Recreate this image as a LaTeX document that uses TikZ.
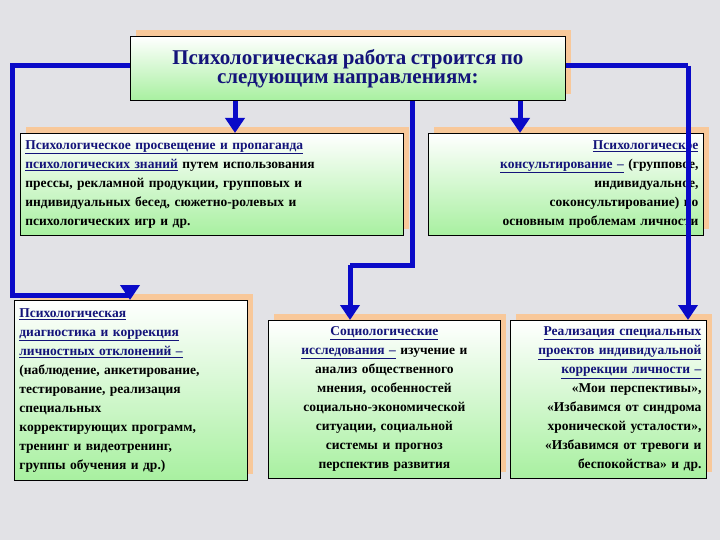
\documentclass[tikz,border=0pt]{standalone}
\usepackage{fontspec}
\setmainfont{Liberation Serif}
\usetikzlibrary{arrows.meta}
\definecolor{bg}{HTML}{E2E2E6}
\definecolor{peach}{HTML}{F8C89A}
\definecolor{navy}{HTML}{14147A}
\definecolor{arr}{HTML}{0A0AC8}
\definecolor{grn}{HTML}{A8F0A0}
\newcommand{\ul}[1]{\textcolor{navy}{\underline{#1}}}
\tikzset{
 box/.style={draw=black,line width=0.8pt,top color=white,bottom color=grn,inner sep=4pt,font=\bfseries\fontsize{13.5}{19}\selectfont},
 conn/.style={draw=arr,line width=5pt},
 tip/.style={conn,-{Triangle[length=15pt,width=19pt]}}
}
\newcommand{\bx}[7]{% name, x1,y1,x2,y2, align, text
 \fill[peach] (#2+6,#3-6) rectangle (#4+6,#5-6);
 \node[box,anchor=north west,minimum width=#4-#2,minimum height=#5-#3,text width=#4-#2-10,align=#6](#1) at (#2,#3) {#7};}
\begin{document}
\begin{tikzpicture}[x=1pt,y=-1pt]
\fill[bg] (0,0) rectangle (720,540);
\useasboundingbox (0,0) rectangle (720,540);
\coordinate (l1) at (12,66); \coordinate (l2) at (12,295); \coordinate (l3) at (130,295);
\coordinate (m1) at (412,265); \coordinate (m2) at (350,265);
\coordinate (r1) at (688,66);
\bx{t}{130}{36}{565}{100}{center}{\color{navy}\fontsize{21}{30}\selectfont Психологическая работа строится по\\\color{navy}\fontsize{21}{30}\selectfont следующим направлениям:}
\bx{a}{20}{133}{403}{235}{left}{\ul{Психологическое просвещение и пропаганда}\\\ul{психологических знаний} путем использования\\прессы, рекламной продукции, групповых и\\индивидуальных бесед, сюжетно-ролевых и\\психологических игр и др.}
\bx{b}{428}{133}{703}{235}{right}{\ul{Психологическое}\\\ul{консультирование –} (групповое,\\индивидуальное,\\соконсультирование) по\\основным проблемам личности}
\bx{c}{14}{300}{247}{480}{left}{\ul{Психологическая}\\\ul{диагностика и коррекция}\\\ul{личностных отклонений –}\\(наблюдение, анкетирование,\\тестирование, реализация\\специальных\\корректирующих программ,\\тренинг и видеотренинг,\\группы обучения и др.)}
\bx{d}{268}{320}{500}{478}{center}{\ul{Социологические}\\\ul{исследования –} изучение и\\анализ общественного\\мнения, особенностей\\социально-экономической\\ситуации, социальной\\системы и прогноз\\перспектив развития}
\bx{e}{510}{320}{706}{478}{right}{\ul{Реализация специальных}\\\ul{проектов индивидуальной}\\\ul{коррекции личности –}\\«Мои перспективы»,\\«Избавимся от синдрома\\хронической усталости»,\\«Избавимся от тревоги и\\беспокойства» и др.}
\draw[conn] (t.west|-l1) -- (l1) -- (l2) -- (l3);
\draw[tip] (l3) -- (l3|-c.north);
\draw[tip] (t.south-|235,0) -- (a.north-|235,0);
\draw[tip] (t.south-|520,0) -- (b.north-|520,0);
\draw[conn] (t.south-|m1) -- (m1) -- (m2);
\draw[tip] (m2) -- (m2|-d.north);
\draw[conn] (t.east|-r1) -- (r1);
\draw[tip] (r1) -- (r1|-e.north);
\end{tikzpicture}
\end{document}
